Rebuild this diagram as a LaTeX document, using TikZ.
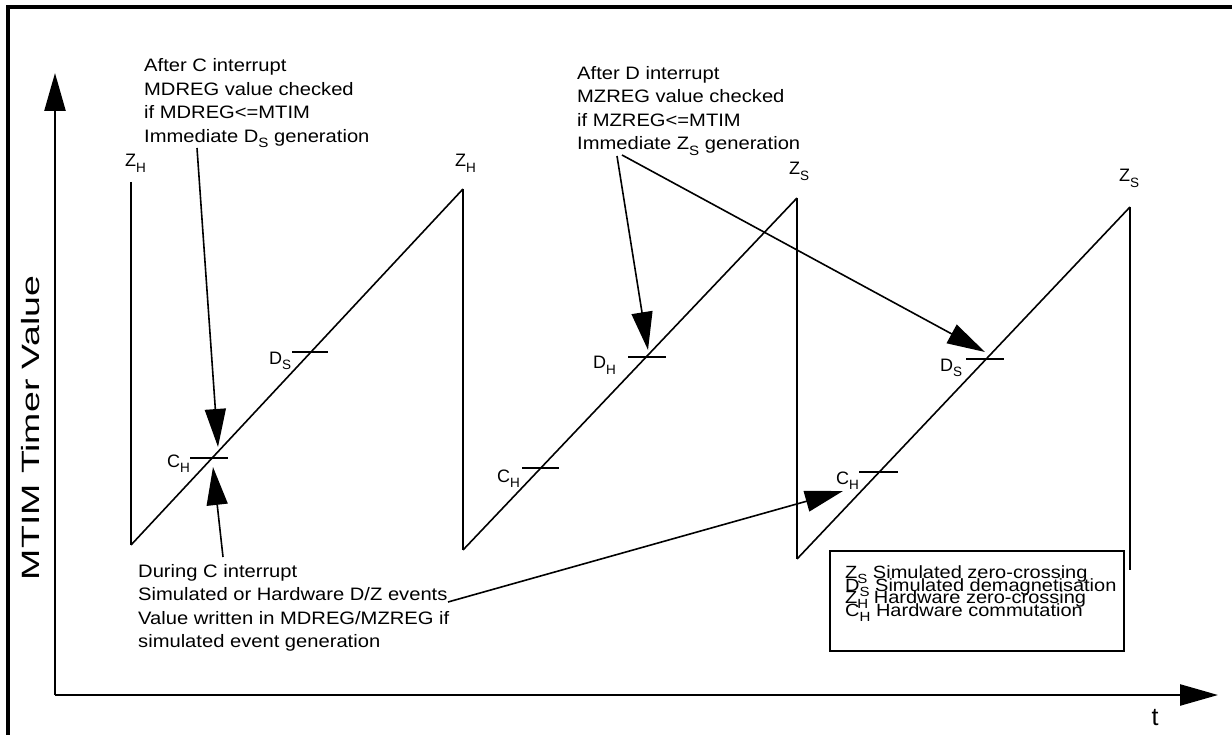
\documentclass[tikz,border=0pt]{standalone}
\usepackage{fontspec}
\usepackage{graphicx}
\setmainfont{Liberation Sans}
\usetikzlibrary{arrows.meta}
\newcommand\sbs[1]{\raisebox{-0.28em}{\scalebox{0.75}{#1}}}
\newcommand\wide[1]{\scalebox{1.12}[1]{#1}}
\begin{document}
\begin{tikzpicture}[x=1pt,y=-1pt,
  vert/.style={line width=2.2pt},
  diag/.style={line width=1.6pt},
  tickmark/.style={line width=2.6pt},
  note/.style={font=\fontsize{18}{23.5}\selectfont, align=left, inner sep=0pt, anchor=base west},
  lbl/.style={font=\fontsize{18}{18}\selectfont, inner sep=0pt, anchor=base west},
  legline/.style={font=\fontsize{17.7}{17.7}\selectfont, inner sep=0pt, anchor=base west},
  ann/.style={line width=1.6pt, -{Triangle[length=38pt,width=21pt]}},
  axis/.style={line width=2.5pt, -{Triangle[length=38pt,width=21pt]}}]
\useasboundingbox (0,0) rectangle (1232,735);
% frame
\draw[line width=3.2pt] (8,745) -- (8,7) -- (1245,7);
% axes
\coordinate (o) at (55,695);
\coordinate (ytip) at (55,73);
\coordinate (xtip) at (1218,695);
\draw[axis] (o) -- (ytip);
\draw[axis] (o) -- (xtip);
\node[rotate=90, font=\fontsize{25}{25}\selectfont, inner sep=0pt] (ylab) at (31,428) {\scalebox{1.5}[1]{MTIM Timer Value}};
\node[font=\fontsize{25}{25}\selectfont, inner sep=0pt, anchor=base] (tlab) at (1155,725) {t};
% sawtooth points
\coordinate (p1t) at (131,182); \coordinate (p1b) at (131,545);
\coordinate (p2t) at (463,189); \coordinate (p2b) at (463,550);
\coordinate (p3t) at (797,198); \coordinate (p3b) at (797,559);
\coordinate (p4t) at (1130,207); \coordinate (p4b) at (1130,570);
\draw[vert] (p1t) -- (p1b);
\draw[diag] (p1b) -- (p2t);
\draw[vert] (p2t) -- (p2b);
\draw[diag] (p2b) -- (p3t);
\draw[vert] (p3t) -- (p3b);
\draw[diag] (p3b) -- (p4t);
\draw[vert] (p4t) -- (p4b);
% ticks
\draw[tickmark] (292,352) -- (328,352);
\draw[tickmark] (190,458) -- (228,458);
\draw[tickmark] (628,357) -- (666,357);
\draw[tickmark] (522,468) -- (559,468);
\draw[tickmark] (966,359) -- (1004,359);
\draw[tickmark] (859,472) -- (898,472);
% labels
\node[lbl] (zh1) at (125,167) {Z\sbs{H}};
\node[lbl] (zh2) at (455,167) {Z\sbs{H}};
\node[lbl] (zs3) at (789,175) {Z\sbs{S}};
\node[lbl] (zs4) at (1119,182) {Z\sbs{S}};
\node[lbl] (ds1) at (269,364) {D\sbs{S}};
\node[lbl] (ch1) at (167,467) {C\sbs{H}};
\node[lbl] (dh2) at (593,369) {D\sbs{H}};
\node[lbl] (ch2) at (497,482) {C\sbs{H}};
\node[lbl] (ds3) at (940,371) {D\sbs{S}};
\node[lbl] (ch3) at (836,484) {C\sbs{H}};
% notes (anchor = baseline of last line)
\node[note] (tc) at (144,142.5) {\wide{After C interrupt}\\\wide{MDREG value checked}\\\wide{if MDREG<=MTIM}\\\wide{Immediate D\sbs{S} generation}};
\node[note] (td) at (577,150) {\wide{After D interrupt}\\\wide{MZREG value checked}\\\wide{if MZREG<=MTIM}\\\wide{Immediate Z\sbs{S} generation}};
\node[note] (tb) at (138,647.5) {\wide{During C interrupt}\\\wide{Simulated or Hardware D/Z events}\\\wide{Value written in MDREG/MZREG if}\\\wide{simulated event generation}};
% annotation arrows
\coordinate (a1s) at (197,148); \coordinate (a1e) at (218,447);
\coordinate (a2s) at (223,557); \coordinate (a2e) at (213,467);
\coordinate (a3s) at (617,156); \coordinate (a3e) at (648,350);
\coordinate (a4s) at (622,155); \coordinate (a4e) at (985,352);
\coordinate (a5s) at (448,602); \coordinate (a5e) at (843,491);
\draw[ann] (a1s) -- (a1e);
\draw[ann] (a2s) -- (a2e);
\draw[ann] (a3s) -- (a3e);
\draw[ann] (a4s) -- (a4e);
\draw[ann] (a5s) -- (a5e);
% legend
\draw[line width=2.6pt] (830,551) rectangle (1124,651);
\node[legline] (leg1) at (845,578.5) {\scalebox{1.13}[1]{Z\sbs{S} Simulated zero-crossing}};
\node[legline] (leg2) at (845,591.2) {\scalebox{1.13}[1]{D\sbs{S} Simulated demagnetisation}};
\node[legline] (leg3) at (845,603.9) {\scalebox{1.13}[1]{Z\sbs{H} Hardware zero-crossing}};
\node[legline] (leg4) at (845,616.6) {\scalebox{1.13}[1]{C\sbs{H} Hardware commutation}};
\end{tikzpicture}
\end{document}
